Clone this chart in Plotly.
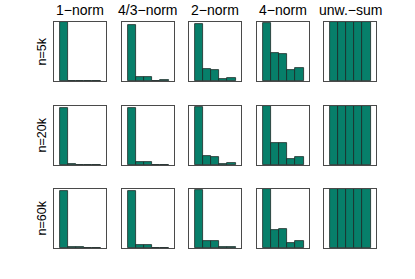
import plotly.graph_objects as go

W, H = 415, 279

methods = ["1\u2212norm", "4/3\u2212norm", "2\u2212norm", "4\u2212norm", "unw.\u2212sum"]
sizes = ["n=5k", "n=20k", "n=60k"]
components = [1, 2, 3, 4, 5]

# relative weights per component, rows = n=5k, n=20k, n=60k
norm_1 = [[1.00, 0.005, 0.005, 0.003, 0.008],
          [0.97, 0.012, 0.008, 0.002, 0.004],
          [0.96, 0.010, 0.010, 0.002, 0.003]]
norm_4_3 = [[0.95, 0.073, 0.063, 0.005, 0.020],
            [0.97, 0.057, 0.047, 0.003, 0.008],
            [0.97, 0.050, 0.050, 0.005, 0.006]]
norm_2 = [[0.96, 0.20, 0.18, 0.040, 0.046],
          [0.99, 0.15, 0.14, 0.017, 0.030],
          [0.98, 0.12, 0.12, 0.012, 0.012]]
norm_4 = [[0.98, 0.47, 0.46, 0.19, 0.215],
          [1.00, 0.37, 0.37, 0.11, 0.14],
          [1.00, 0.30, 0.32, 0.085, 0.12]]
unw_sum = [[1.0, 1.0, 1.0, 1.0, 1.0],
           [1.0, 1.0, 1.0, 1.0, 1.0],
           [1.0, 1.0, 1.0, 1.0, 1.0]]
all_values = [norm_1, norm_4_3, norm_2, norm_4, unw_sum]

col_left = [54, 122, 189, 257, 324]
panel_w = 52
row_top = [22, 106, 189]
panel_h = 59


def px_x(x):
    return x / W


def px_y(y):
    return 1 - y / H


bar_color = "#077f6a"
edge_color = "#1a2a26"
frame_color = "#4a4a4a"
font_family = "Liberation Sans, Arial, sans-serif"

fig = go.Figure()
layout = {}
k = 0
for r in range(3):
    for c in range(5):
        k += 1
        xa = "x" if k == 1 else f"x{k}"
        ya = "y" if k == 1 else f"y{k}"
        fig.add_trace(go.Bar(
            x=components, y=all_values[c][r],
            xaxis=xa, yaxis=ya,
            marker=dict(color=bar_color, line=dict(color=edge_color, width=0.8)),
            showlegend=False, hoverinfo="skip",
        ))
        common = dict(showgrid=False, zeroline=False, showticklabels=False,
                      ticks="", showline=True, mirror=True,
                      linecolor=frame_color, linewidth=1, fixedrange=True)
        layout["xaxis" if k == 1 else f"xaxis{k}"] = dict(
            domain=[px_x(col_left[c]), px_x(col_left[c] + panel_w)],
            range=[-0.17, 6.17], anchor=ya, **common)
        layout["yaxis" if k == 1 else f"yaxis{k}"] = dict(
            domain=[px_y(row_top[r] + panel_h), px_y(row_top[r])],
            range=[0, 1.0], anchor=xa, **common)

annotations = []
for c, m in enumerate(methods):
    annotations.append(dict(
        text=m, x=px_x(col_left[c] + panel_w / 2), y=px_y(10),
        xref="paper", yref="paper", xanchor="center", yanchor="middle",
        showarrow=False, font=dict(family=font_family, size=14, color="black")))
for r, s in enumerate(sizes):
    annotations.append(dict(
        text=s, x=px_x(41), y=px_y(row_top[r] + panel_h / 2),
        xref="paper", yref="paper", xanchor="center", yanchor="middle",
        textangle=-90, showarrow=False,
        font=dict(family=font_family, size=12.5, color="black")))

fig.update_layout(
    width=W, height=H,
    margin=dict(l=0, r=0, t=0, b=0),
    paper_bgcolor="white", plot_bgcolor="white",
    bargap=0.0,
    annotations=annotations,
    **layout,
)

fig.write_html(
    "out.html",
    config={"displayModeBar": False},
    post_script="document.body.style.margin='0px';",
)
